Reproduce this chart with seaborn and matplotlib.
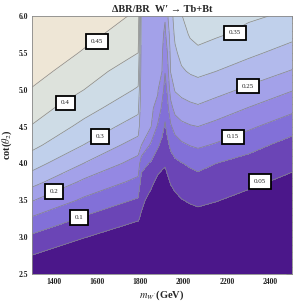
import numpy as np
import matplotlib
matplotlib.use("Agg")
import matplotlib.pyplot as plt
from matplotlib.colors import ListedColormap, BoundaryNorm
from matplotlib.ticker import MultipleLocator
import seaborn as sns

# ---- data -----------------------------------------------------------------
m_wp = [1300, 1540, 1790, 1805, 1850, 1880, 1900, 1914, 1925, 1940, 1960,
        1990, 2030, 2066, 2150, 2300, 2500]
cot_t2 = [2.5, 2.75, 3.0, 3.25, 3.5, 3.75, 4.0, 4.25, 4.5, 4.75, 5.0, 5.25,
          5.5, 5.75, 6.0]

# dBR/BR values, one list per m_W' column (bottom -> top)
col_1300 = [0.010, 0.049, 0.091, 0.143, 0.203, 0.269, 0.321, 0.363, 0.397, 0.423, 0.447, 0.469, 0.491, 0.512, 0.533]
col_1540 = [-0.030, 0.011, 0.052, 0.093, 0.141, 0.190, 0.249, 0.299, 0.336, 0.369, 0.400, 0.422, 0.445, 0.466, 0.488]
col_1790 = [-0.060, -0.024, 0.015, 0.055, 0.094, 0.138, 0.179, 0.227, 0.275, 0.313, 0.345, 0.373, 0.400, 0.421, 0.441]
col_1805 = [-0.040, 0.000, 0.021, 0.042, 0.062, 0.083, 0.117, 0.200, 0.205, 0.210, 0.215, 0.220, 0.225, 0.230, 0.235]
col_1850 = [-0.050, -0.050, -0.023, 0.001, 0.031, 0.062, 0.094, 0.140, 0.200, 0.205, 0.210, 0.215, 0.220, 0.225, 0.230]
col_1880 = [-0.080, -0.070, -0.050, -0.032, 0.003, 0.037, 0.072, 0.107, 0.143, 0.190, 0.204, 0.209, 0.214, 0.219, 0.225]
col_1900 = [-0.100, -0.080, -0.050, -0.025, 0.003, 0.032, 0.060, 0.089, 0.115, 0.140, 0.169, 0.200, 0.205, 0.210, 0.215]
col_1914 = [-0.100, -0.080, -0.060, -0.030, 0.013, 0.034, 0.054, 0.075, 0.095, 0.114, 0.133, 0.152, 0.171, 0.190, 0.205]
col_1925 = [-0.100, -0.080, -0.050, -0.020, 0.015, 0.040, 0.065, 0.090, 0.114, 0.136, 0.158, 0.179, 0.200, 0.222, 0.245]
col_1940 = [-0.080, -0.060, -0.035, 0.001, 0.028, 0.054, 0.081, 0.109, 0.143, 0.183, 0.221, 0.252, 0.261, 0.270, 0.280]
col_1960 = [-0.070, -0.040, -0.015, 0.011, 0.038, 0.064, 0.090, 0.125, 0.170, 0.217, 0.254, 0.273, 0.292, 0.308, 0.320]
col_1990 = [-0.050, -0.027, -0.002, 0.023, 0.048, 0.073, 0.098, 0.141, 0.187, 0.230, 0.265, 0.294, 0.314, 0.332, 0.348]
col_2030 = [-0.050, -0.020, 0.005, 0.030, 0.055, 0.079, 0.107, 0.152, 0.196, 0.238, 0.274, 0.305, 0.332, 0.355, 0.370]
col_2066 = [-0.040, -0.015, 0.010, 0.034, 0.059, 0.083, 0.114, 0.158, 0.200, 0.243, 0.278, 0.311, 0.341, 0.363, 0.380]
col_2150 = [-0.050, -0.020, 0.004, 0.028, 0.052, 0.076, 0.100, 0.145, 0.185, 0.228, 0.266, 0.300, 0.330, 0.355, 0.370]
col_2300 = [-0.060, -0.037, -0.013, 0.012, 0.036, 0.060, 0.084, 0.115, 0.159, 0.198, 0.241, 0.277, 0.310, 0.339, 0.356]
col_2500 = [-0.080, -0.055, -0.031, -0.008, 0.015, 0.038, 0.061, 0.084, 0.117, 0.164, 0.203, 0.247, 0.281, 0.313, 0.343]

contour_levels = [0.05, 0.10, 0.15, 0.20, 0.25, 0.30, 0.35, 0.40, 0.45]
label_text = ["0.05", "0.1", "0.15", "0.2", "0.25", "0.3", "0.35", "0.4", "0.45"]
label_m = [2352, 1517, 2228, 1402, 2298, 1614, 2237, 1455, 1600]
label_c = [3.75, 3.27, 4.36, 3.62, 5.05, 4.37, 5.77, 4.82, 5.65]

x_ticks = [1400, 1600, 1800, 2000, 2200, 2400]
y_ticks = [2.5, 3.0, 3.5, 4.0, 4.5, 5.0, 5.5, 6.0]

band_colors = ["#4b178a", "#6b45b6", "#8270d8", "#9488e3", "#a3a1e9",
               "#b2baec", "#c0d0eb", "#cedce6", "#dde2dc", "#eee6d6"]

# ---- figure ---------------------------------------------------------------
sns.set_theme(style="white")
plt.rcParams["font.family"] = ["Liberation Serif", "DejaVu Serif"]
plt.rcParams["mathtext.fontset"] = "stix"

columns = [col_1300, col_1540, col_1790, col_1805, col_1850, col_1880, col_1900,
           col_1914, col_1925, col_1940, col_1960, col_1990, col_2030, col_2066,
           col_2150, col_2300, col_2500]
Z = np.array(columns).T
X, Y = np.meshgrid(m_wp, cot_t2)

fig = plt.figure(figsize=(2.97, 3.06), dpi=100)
ax = fig.add_axes([32 / 297, 1 - 274 / 306, 260 / 297, 258 / 306])

fill_levels = [-1.0] + contour_levels + [1.0]
cmap = ListedColormap(band_colors)
norm = BoundaryNorm(fill_levels, cmap.N)
ax.contourf(X, Y, Z, levels=fill_levels, cmap=cmap, norm=norm)
cs = ax.contour(X, Y, Z, levels=contour_levels, colors="#858585", linewidths=0.5)

for txt, lm, lc in zip(label_text, label_m, label_c):
    ax.text(lm, lc, txt, fontsize=5, color="#222222", ha="center", va="center",
            bbox=dict(boxstyle="square,pad=0.7", fc="white", ec="black", lw=1.3),
            zorder=5)

ax.set_xlim(1300, 2500)
ax.set_ylim(2.5, 6.0)
ax.set_xticks(x_ticks)
ax.set_yticks(y_ticks)
ax.set_xticklabels([str(v) for v in x_ticks])
ax.set_yticklabels([f"{v:.1f}" for v in y_ticks])
ax.xaxis.set_minor_locator(MultipleLocator(50))
ax.yaxis.set_minor_locator(MultipleLocator(0.1))
ax.tick_params(which="both", direction="in", top=True, right=True,
               colors="#777777", labelcolor="#222222", labelsize=5.5, pad=3)
ax.tick_params(which="major", length=4, width=0.5)
ax.tick_params(which="minor", length=2, width=0.5)
for lab in ax.get_xticklabels() + ax.get_yticklabels():
    lab.set_fontweight("bold")
for sp in ax.spines.values():
    sp.set_color("#888888")
    sp.set_linewidth(0.6)

ax.set_xlabel(r"$m_{W'}$(GeV)", fontsize=7.5, fontweight="bold", labelpad=2)
ax.set_ylabel(r"cot($\theta_2$)", fontsize=7.5, fontweight="bold", labelpad=3)
ax.set_title("ΔBR/BR  W\u2032 \u2192 Tb+Bt", fontsize=7.5, fontweight="bold", pad=3)

fig.savefig("out.png", dpi=100)
